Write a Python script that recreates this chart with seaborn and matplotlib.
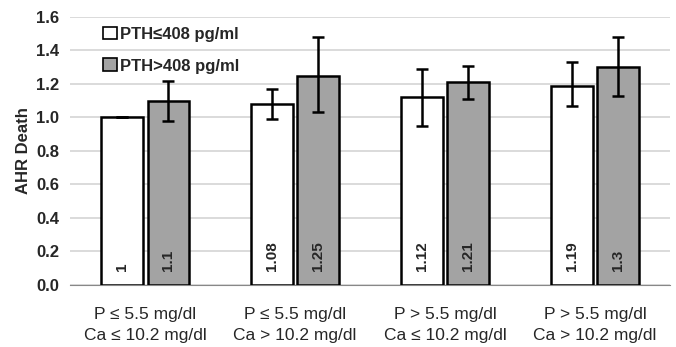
import pandas as pd
import seaborn as sns
import matplotlib.pyplot as plt
from matplotlib.patches import Patch

groups = ["P \u2264 5.5 mg/dl\nCa \u2264 10.2 mg/dl",
          "P \u2264 5.5 mg/dl\nCa > 10.2 mg/dl",
          "P > 5.5 mg/dl\nCa \u2264 10.2 mg/dl",
          "P > 5.5 mg/dl\nCa > 10.2 mg/dl"]
pth_labels = ["PTH\u2264408 pg/ml", "PTH>408 pg/ml"]
ahr_low = [1.0, 1.08, 1.12, 1.19]
ahr_high = [1.1, 1.25, 1.21, 1.3]
low_ci_lo = [1.0, 0.99, 0.95, 1.07]
low_ci_hi = [1.0, 1.17, 1.29, 1.33]
high_ci_lo = [0.98, 1.03, 1.11, 1.13]
high_ci_hi = [1.22, 1.48, 1.31, 1.48]
bar_text_low = ["1", "1.08", "1.12", "1.19"]
bar_text_high = ["1.1", "1.25", "1.21", "1.3"]

df = pd.DataFrame({
    "group": groups * 2,
    "pth": [pth_labels[0]] * 4 + [pth_labels[1]] * 4,
    "ahr": ahr_low + ahr_high,
})

sns.set_style("white")
plt.rcParams["font.family"] = ["Liberation Sans", "DejaVu Sans"]

fig = plt.figure(figsize=(6.76, 3.47), dpi=100)
ax = fig.add_axes([0.104, 0.179, 0.887, 0.772])

colors = ["white", "#a3a3a3"]
sns.barplot(data=df, x="group", y="ahr", hue="pth", palette=colors,
            width=0.62, gap=0.1, errorbar=None, edgecolor="black",
            linewidth=1.8, ax=ax, legend=False, zorder=3)

los = [low_ci_lo, high_ci_lo]
his = [low_ci_hi, high_ci_hi]
texts = [bar_text_low, bar_text_high]
vals = [ahr_low, ahr_high]
bar_conts = list(ax.containers)
for k, cont in enumerate(bar_conts):
    xs = [p.get_x() + p.get_width() / 2 for p in cont.patches]
    v = vals[k]
    err = [[v[i] - los[k][i] for i in range(4)], [his[k][i] - v[i] for i in range(4)]]
    ax.errorbar(xs, v, yerr=err, fmt="none", ecolor="black", elinewidth=1.8,
                capsize=4.5, capthick=1.8, zorder=4)
    for i, x in enumerate(xs):
        ax.text(x, 0.085, texts[k][i], rotation=90, ha="center", va="bottom",
                fontsize=11, fontweight="bold", zorder=5)

ax.set_ylim(0, 1.6)
ax.set_xlim(-0.5, 3.5)
ax.set_yticks([0, 0.2, 0.4, 0.6, 0.8, 1.0, 1.2, 1.4, 1.6])
ax.set_yticklabels([f"{t:.1f}" for t in ax.get_yticks()], fontsize=12, fontweight="bold")
ax.yaxis.grid(True, color="#d4d4d4", linewidth=1.2, zorder=0)
ax.set_axisbelow(True)
ax.tick_params(axis="y", length=4, color="#888888", pad=4)
ax.tick_params(axis="x", which="major", length=0, labelsize=12.5, pad=16)
for lbl in ax.get_xticklabels():
    lbl.set_linespacing(1.45)
ax.set_xticks([0.5, 1.5, 2.5], minor=True)
ax.tick_params(axis="x", which="minor", length=4, color="#888888")
for s in ["top", "right", "left"]:
    ax.spines[s].set_visible(False)
ax.spines["bottom"].set_color("#888888")
ax.set_xlabel("")
ax.set_ylabel("AHR Death", fontsize=12, fontweight="bold", labelpad=4)

handles = [Patch(facecolor=c, edgecolor="black", linewidth=1.2) for c in colors]
ax.legend(handles, pth_labels, loc="upper left", bbox_to_anchor=(0.03, 1.02),
          frameon=False, handlelength=0.8, handleheight=0.8, handletextpad=0.2,
          labelspacing=1.0, prop={"size": 12, "weight": "bold"})

fig.savefig("out.png", dpi=100)
